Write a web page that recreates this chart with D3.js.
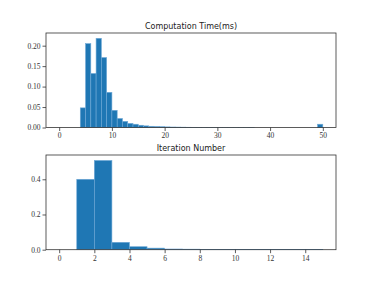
<!DOCTYPE html>
<html><head><meta charset="utf-8">
<script src="https://cdn.jsdelivr.net/npm/d3@7"></script>
<style>body{margin:0;background:#fff}svg{display:block}</style>
</head><body>
<script>
// Computation Time histogram (bins of width 1 from 0 to 50)
const timeBinStart = [0,1,2,3,4,5,6,7,8,9,10,11,12,13,14,15,16,17,18,19,20,21,22,23,24,25,26,27,28,29,30,31,32,33,34,35,36,37,38,39,40,41,42,43,44,45,46,47,48,49];
const timeDensity = [0,0,0,0,0.048,0.205,0.132,0.218,0.171,0.086,0.042,0.022,0.015,0.010,0.008,0.0055,0.004,0.003,0.0025,0.002,0.0015,0.0012,0.001,0.0008,0.0006,0.0005,0.0004,0.0003,0.0003,0.0002,0.0002,0.0002,0.0001,0.0001,0.0001,0.0001,0.0001,0,0,0,0,0,0,0,0,0,0,0,0,0.008];
const timeTicks = [0,10,20,30,40,50];
const timeYTicks = [0,0.05,0.10,0.15,0.20];
// Iteration Number histogram (bins of width 1 from 0 to 15)
const iterBinStart = [0,1,2,3,4,5,6,7,8,9,10,11,12,13,14];
const iterDensity = [0,0.400,0.507,0.042,0.017,0.009,0.004,0.003,0.002,0.001,0.0006,0.0005,0.0004,0.0003,0.0003];
const iterTicks = [0,2,4,6,8,10,12,14];
const iterYTicks = [0,0.2,0.4];

const W=374,H=281;
const svg=d3.select("body").append("svg").attr("width",W).attr("height",H);

function panel(o){
  const g=svg.append("g");
  const x=d3.scaleLinear().domain(o.xd).range([o.left,o.right]);
  const y=d3.scaleLinear().domain(o.yd).range([o.bottom,o.top]);
  g.selectAll("rect.bar").data(o.starts).enter().append("rect")
    .attr("x",(d)=>x(d)).attr("width",(d)=>x(d+1)-x(d))
    .attr("y",(d,i)=>y(o.vals[i])).attr("height",(d,i)=>y(0)-y(o.vals[i]))
    .attr("fill","#1f77b4").attr("stroke","#6fa8d6").attr("stroke-width",0.6);
  const xa=g.append("g").attr("transform",`translate(0,${o.bottom})`)
    .call(d3.axisBottom(x).tickValues(o.xt).tickSize(3.5).tickSizeOuter(0).tickPadding(2).tickFormat(d3.format("d")));
  const ya=g.append("g").attr("transform",`translate(${o.left},0)`)
    .call(d3.axisLeft(y).tickValues(o.yt).tickSize(3.5).tickSizeOuter(0).tickPadding(2).tickFormat(d3.format(o.yf)));
  [xa,ya].forEach(a=>{a.attr("font-family","'Liberation Serif','DejaVu Serif',serif").attr("font-size",7.5);
    a.select(".domain").remove();a.selectAll("line").attr("stroke","#333").attr("stroke-width",0.8);
    a.selectAll("text").attr("fill","#333");});
  g.append("rect").attr("x",o.left).attr("y",o.top).attr("width",o.right-o.left).attr("height",o.bottom-o.top)
    .attr("fill","none").attr("stroke","#333").attr("stroke-width",0.8);
  g.append("text").attr("x",(o.left+o.right)/2).attr("y",o.top-4).attr("text-anchor","middle")
    .attr("font-family","'DejaVu Sans',sans-serif").attr("font-size",8).attr("fill","#222").text(o.title);
}
panel({xd:[-2.5,52.5],yd:[0,0.2310],left:46,right:336,top:33,bottom:127.5,starts:timeBinStart,vals:timeDensity,xt:timeTicks,yt:timeYTicks,yf:".2f",title:"Computation Time(ms)"});
panel({xd:[-0.75,15.75],yd:[0,0.538],left:46,right:336,top:155,bottom:249.7,starts:iterBinStart,vals:iterDensity,xt:iterTicks,yt:iterYTicks,yf:".1f",title:"Iteration Number"});
</script>
</body></html>
